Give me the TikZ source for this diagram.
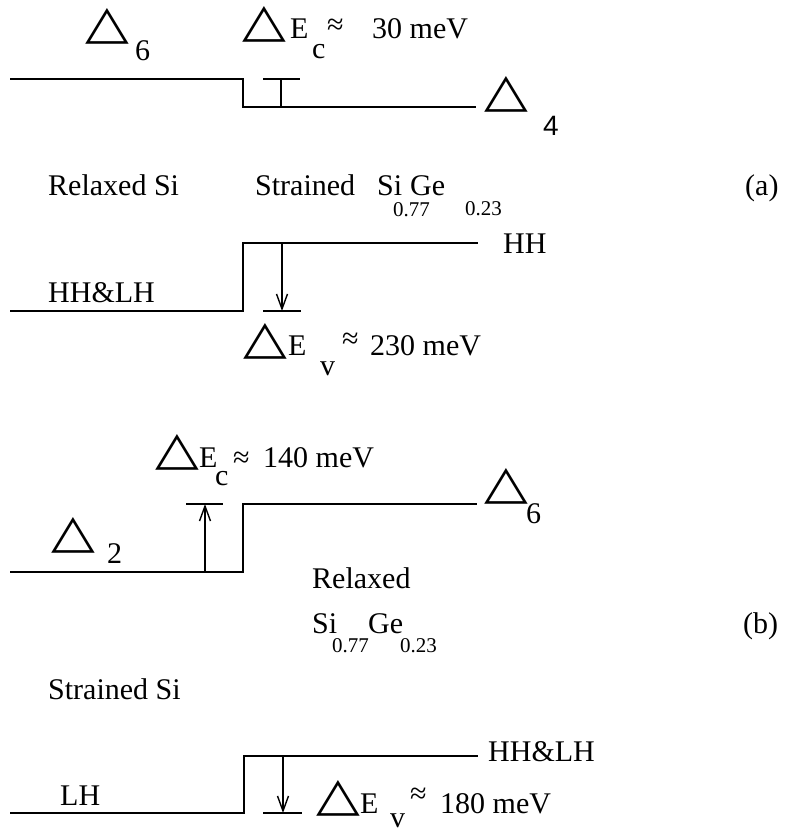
\documentclass[tikz,border=0pt]{standalone}
\usepackage{fontspec}
\setmainfont{Liberation Serif}
\newfontfamily\dvfont{DejaVu Sans}
\newfontfamily\lsfont{Liberation Sans}
\usetikzlibrary{arrows.meta}
\newcommand\tri{\scalebox{1}[0.82]{\dvfont\fontsize{57}{57}\selectfont △}}
\begin{document}
\begin{tikzpicture}[x=1pt,y=-1pt,
  band/.style={line width=1.9pt},
  marker/.style={line width=1.4pt},
  lbl/.style={inner sep=0pt, anchor=base west, font=\fontsize{30}{36}\selectfont},
  sublbl/.style={inner sep=0pt, anchor=base west, font=\fontsize{21}{25}\selectfont},
  trinode/.style={inner sep=0pt, anchor=center},
  tipd/.style={-{Straight Barb[length=15pt,width=11pt,line width=1.4pt]}}]
\useasboundingbox (0,0) rectangle (785,833);

% ---------- (a) conduction band ----------
\coordinate (ac1) at (10,79);
\coordinate (ac2) at (243,79);
\coordinate (ac3) at (243,107);
\coordinate (ac4) at (476,107);
\draw[band] (ac1) -- (ac2) -- (ac3) -- (ac4);
\coordinate (acb1) at (263,79);
\coordinate (acb2) at (300,79);
\coordinate (acm1) at (281,79);
\coordinate (acm2) at (281,107);
\draw[marker] (acb1) -- (acb2);
\draw[marker] (acm1) -- (acm2);

\node[trinode] (t6a) at (107,26.5) {\tri};
\node[lbl] (n6a) at (135,60) {6};
\node[trinode] (tEca) at (264,24) {\tri};
\node[lbl] (Eca) at (290,38) {E};
\node[lbl] (ca) at (312,58) {c};
\node[lbl] (apxa) at (327,34) {≈};
\node[lbl] (vala) at (372,38) {30 meV};
\node[trinode] (t4a) at (506.5,94) {\tri};
\node[lbl,font=\lsfont\fontsize{28}{30}\selectfont] (n4a) at (543,135) {4};

% ---------- (a) middle text ----------
\node[lbl] (relSi) at (48,195) {Relaxed Si};
\node[lbl] (strA) at (255,195) {Strained};
\node[lbl] (siA) at (377,195) {Si};
\node[sublbl] (s077a) at (393,216) {0.77};
\node[lbl] (geA) at (410,195) {Ge};
\node[sublbl] (s023a) at (465,215) {0.23};
\node[lbl] (pa) at (745,195) {(a)};

% ---------- (a) valence band ----------
\coordinate (av1) at (10,311);
\coordinate (av2) at (243,311);
\coordinate (av3) at (243,243);
\coordinate (av4) at (478,243);
\draw[band] (av1) -- (av2) -- (av3) -- (av4);
\coordinate (ava1) at (282,243);
\coordinate (ava2) at (282,311);
\coordinate (avb1) at (263,311);
\coordinate (avb2) at (301,311);
\draw[marker,tipd] (ava1) -- (ava2);
\draw[marker] (avb1) -- (avb2);
\node[lbl] (HHa) at (503,253) {HH};
\node[lbl] (HHLHa) at (48,302) {HH\&LH};
\node[trinode] (tEva) at (265,341.5) {\tri};
\node[lbl] (Eva) at (288,355) {E};
\node[lbl] (va) at (320,375) {v};
\node[lbl] (apxva) at (342,348) {≈};
\node[lbl] (valva) at (370,355) {230 meV};

% ---------- (b) conduction band ----------
\coordinate (bc1) at (10,572);
\coordinate (bc2) at (243,572);
\coordinate (bc3) at (243,504);
\coordinate (bc4) at (477,504);
\draw[band] (bc1) -- (bc2) -- (bc3) -- (bc4);
\coordinate (bca1) at (205,572);
\coordinate (bca2) at (205,504);
\coordinate (bcb1) at (186,504);
\coordinate (bcb2) at (223,504);
\draw[marker,tipd] (bca1) -- (bca2);
\draw[marker] (bcb1) -- (bcb2);
\node[trinode] (tEcb) at (177,452) {\tri};
\node[lbl] (Ecb) at (199,467) {E};
\node[lbl] (cb) at (215,485) {c};
\node[lbl] (apxcb) at (233,467) {≈};
\node[lbl] (valcb) at (263,467) {140 meV};
\node[trinode] (t6b) at (506.5,486) {\tri};
\node[lbl] (n6b) at (526,523) {6};
\node[trinode] (t2b) at (73.5,535.5) {\tri};
\node[lbl] (n2b) at (107,563) {2};

% ---------- (b) middle text ----------
\node[lbl] (relb) at (312,588) {Relaxed};
\node[lbl] (siB) at (312,633) {Si};
\node[sublbl] (s077b) at (332,652) {0.77};
\node[lbl] (geB) at (368,633) {Ge};
\node[sublbl] (s023b) at (400,652) {0.23};
\node[lbl] (pb) at (743,633) {(b)};
\node[lbl] (strSi) at (48,699) {Strained Si};

% ---------- (b) valence band ----------
\coordinate (bv1) at (10,813);
\coordinate (bv2) at (244,813);
\coordinate (bv3) at (244,756);
\coordinate (bv4) at (478,756);
\draw[band] (bv1) -- (bv2) -- (bv3) -- (bv4);
\coordinate (bva1) at (283,756);
\coordinate (bva2) at (283,813);
\coordinate (bvb1) at (263,813);
\coordinate (bvb2) at (302,813);
\draw[marker,tipd] (bva1) -- (bva2);
\draw[marker] (bvb1) -- (bvb2);
\node[lbl] (HHLHb) at (488,761) {HH\&LH};
\node[lbl] (LHb) at (60,805) {LH};
\node[trinode] (tEvb) at (338.5,798) {\tri};
\node[lbl] (Evb) at (360,813) {E};
\node[lbl] (vb) at (390,827) {v};
\node[lbl] (apxvb) at (410,803) {≈};
\node[lbl] (valvb) at (440,813) {180 meV};
\end{tikzpicture}
\end{document}
